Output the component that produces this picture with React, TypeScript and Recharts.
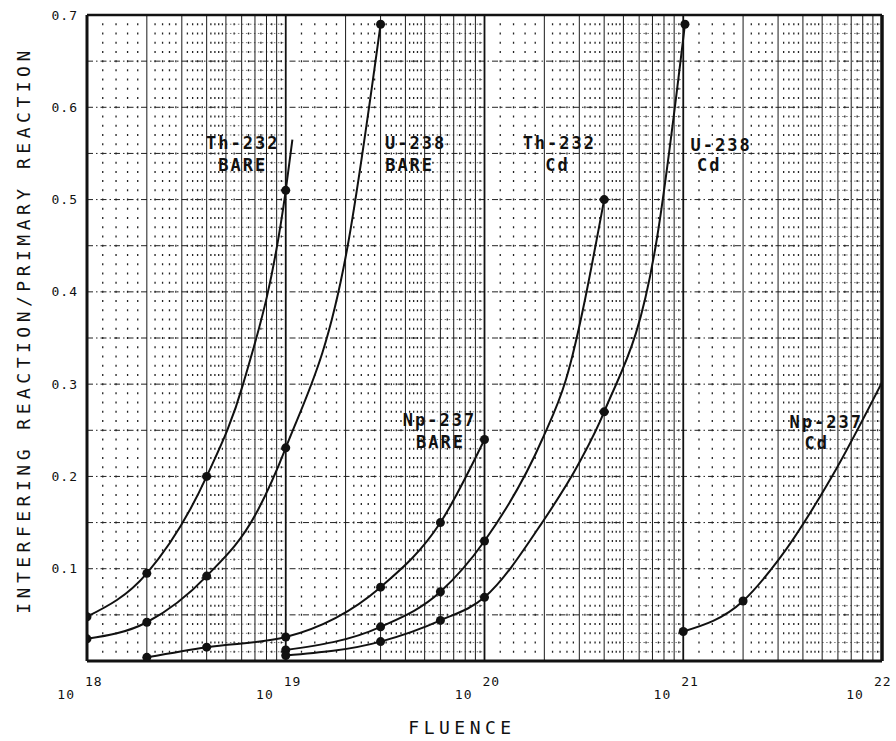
import React from "react";
import { LineChart, Line, XAxis, YAxis, ReferenceLine, ReferenceDot } from "recharts";

// fluence (n/cm^2) vs interfering/primary reaction ratio
// dots[] = whether the point carries a filled marker
const th232BareX = [1e18, 2e18, 4e18, 6.1e18, 1e19, 1.08e19];
const th232BareY = [0.048, 0.095, 0.2, 0.3, 0.51, 0.565];
const th232BareDots = [true, true, true, false, true, false];

const u238BareX = [1e18, 2e18, 4e18, 7.1e18, 1e19, 2.05e19, 3e19];
const u238BareY = [0.024, 0.042, 0.092, 0.16, 0.231, 0.45, 0.69];
const u238BareDots = [true, true, true, false, true, false, true];

const np237BareX = [2e18, 4e18, 1e19, 3e19, 6e19, 1e20];
const np237BareY = [0.004, 0.015, 0.026, 0.08, 0.15, 0.24];
const np237BareDots = [true, true, true, true, true, true];

const th232CdX = [1e19, 3e19, 6e19, 1e20, 1.95e20, 2.57e20, 4e20];
const th232CdY = [0.012, 0.037, 0.075, 0.13, 0.24, 0.305, 0.5];
const th232CdDots = [true, true, true, true, false, false, true];

const u238CdX = [1e19, 3e19, 6e19, 1e20, 1.95e20, 3e20, 4e20, 7.4e20, 1.02e21];
const u238CdY = [0.006, 0.021, 0.044, 0.069, 0.15, 0.215, 0.27, 0.46, 0.69];
const u238CdDots = [true, true, true, true, false, false, true, false, true];

const np237CdX = [1e21, 2e21, 3e21, 5.6e21, 1e22];
const np237CdY = [0.032, 0.065, 0.109, 0.2, 0.302];
const np237CdDots = [true, true, false, false, false];

const xTicks = [1e18, 1e19, 1e20, 1e21, 1e22];
const yTicks = [0.1, 0.2, 0.3, 0.4, 0.5, 0.6, 0.7];

// graph paper
const decades = [1e18, 1e19, 1e20, 1e21];
const majorMult = [2, 3, 4, 5, 6, 7, 8, 9];
const minorMult = [1.2, 1.4, 1.6, 1.8, 2.2, 2.4, 2.6, 2.8, 3.2, 3.4, 3.6, 3.8, 4.2, 4.4, 4.6, 4.8, 5.5, 6.5, 7.5, 8.5, 9.5];
const yMajorGrid = [0.05, 0.1, 0.15, 0.2, 0.25, 0.3, 0.35, 0.4, 0.45, 0.5, 0.55, 0.6, 0.65];
const yRows = Array.from({ length: 69 }, (_, i) => (i + 1) / 100).filter((v) => Math.round(v * 100) % 5 !== 0);

const curveLabels = [
  { text: "Th-232", x: 6.08e18, y: 0.561 },
  { text: "BARE", x: 6.08e18, y: 0.537 },
  { text: "U-238", x: 4.5e19, y: 0.561 },
  { text: "BARE", x: 4.2e19, y: 0.537 },
  { text: "Th-232", x: 2.38e20, y: 0.561 },
  { text: "Cd", x: 2.33e20, y: 0.537 },
  { text: "U-238", x: 1.55e21, y: 0.559 },
  { text: "Cd", x: 1.35e21, y: 0.537 },
  { text: "Np-237", x: 5.94e19, y: 0.261 },
  { text: "BARE", x: 6e19, y: 0.237 },
  { text: "Np-237", x: 5.24e21, y: 0.259 },
  { text: "Cd", x: 4.7e21, y: 0.236 },
];

const toPoints = (xs: number[], ys: number[], dots: boolean[]) =>
  xs.map((x, i) => ({ x, y: ys[i], dot: dots[i] }));

const series = [
  { name: "th232Bare", data: toPoints(th232BareX, th232BareY, th232BareDots) },
  { name: "u238Bare", data: toPoints(u238BareX, u238BareY, u238BareDots) },
  { name: "np237Bare", data: toPoints(np237BareX, np237BareY, np237BareDots) },
  { name: "th232Cd", data: toPoints(th232CdX, th232CdY, th232CdDots) },
  { name: "u238Cd", data: toPoints(u238CdX, u238CdY, u238CdDots) },
  { name: "np237Cd", data: toPoints(np237CdX, np237CdY, np237CdDots) },
];

const MONO = "'DejaVu Sans Mono', monospace";
const INK = "#111";

const PLOT_H = 646;
const ROW = PLOT_H / 70; // 0.01 rows

const XTick = ({ x, y, payload }: any) => {
  const exp = Math.round(Math.log10(payload.value));
  return (
    <g>
      <text x={x - 12} y={y + 33} textAnchor="end" dominantBaseline="central" fontFamily={MONO} fontSize={13} letterSpacing={1} fill={INK}>
        10
      </text>
      <text x={x - 2} y={y + 20} textAnchor="start" dominantBaseline="central" fontFamily={MONO} fontSize={13} letterSpacing={1} fill={INK}>
        {exp}
      </text>
    </g>
  );
};

const YTick = ({ x, y, payload }: any) => (
  <text x={x - 9} y={y} textAnchor="end" dominantBaseline="central" fontFamily={MONO} fontSize={13} letterSpacing={1} fill={INK}>
    {payload.value.toFixed(1)}
  </text>
);

export default function App() {
  return (
    <div style={{ position: "absolute", left: 0, top: 0, width: 896, height: 741, background: "#fff" }}>
      <LineChart width={896} height={741} margin={{ top: 15, right: 14, left: 0, bottom: 0 }}>
        <XAxis
          type="number"
          dataKey="x"
          scale="log"
          domain={[1e18, 1e22]}
          ticks={xTicks}
          allowDataOverflow
          height={80}
          tickSize={0}
          tickMargin={0}
          tick={<XTick />}
          axisLine={{ stroke: INK, strokeWidth: 3 }}
          tickLine={false}
          label={{
            content: ({ viewBox }: any) => (
              <text x={viewBox.x + 375} y={viewBox.y + 66} textAnchor="middle" dominantBaseline="central" fontFamily={MONO} fontSize={18} letterSpacing={4.5} fill={INK}>
                FLUENCE
              </text>
            ),
          }}
        />
        <YAxis
          type="number"
          dataKey="y"
          domain={[0, 0.7]}
          ticks={yTicks}
          allowDataOverflow
          width={87}
          tickSize={0}
          tickMargin={0}
          tick={<YTick />}
          axisLine={{ stroke: INK, strokeWidth: 3 }}
          tickLine={false}
          label={{
            content: ({ viewBox }: any) => {
              const cx = 23;
              const cy = viewBox.y + viewBox.height / 2 - 8;
              return (
                <text x={cx} y={cy} transform={`rotate(-90 ${cx} ${cy})`} textAnchor="middle" dominantBaseline="central" fontFamily={MONO} fontSize={18} letterSpacing={4.5} fill={INK}>
                  INTERFERING REACTION/PRIMARY REACTION
                </text>
              );
            },
          }}
        />

        {/* dotted minor columns, dots fall on the 0.01 rows */}
        {decades.flatMap((d) =>
          minorMult.map((m) => (
            <ReferenceLine
              key={`vm-${d}-${m}`}
              x={d * m}
              stroke="#222"
              strokeWidth={1.3}
              strokeDasharray={`2 ${ROW - 2}`}
              strokeDashoffset={1}
            />
          ))
        )}
        {/* dense upper half of each decade: rows show as fine dotted lines */}
        {decades.flatMap((d) =>
          yRows.map((v) => (
            <ReferenceLine
              key={`hr-${d}-${v}`}
              segment={[{ x: d * 5, y: v }, { x: d * 10, y: v }]}
              stroke="#555"
              strokeWidth={0.8}
              strokeDasharray="1.5 2.5"
            />
          ))
        )}
        {yMajorGrid.map((v) => (
          <ReferenceLine key={`hM-${v}`} y={v} stroke="#222" strokeWidth={1} strokeDasharray="6 3 1.5 3" />
        ))}
        {decades.flatMap((d) =>
          majorMult.map((m) => (
            <ReferenceLine key={`vM-${d}-${m}`} x={d * m} stroke="#1a1a1a" strokeWidth={1} />
          ))
        )}
        {decades.slice(1).map((d) => (
          <ReferenceLine key={`dec-${d}`} x={d} stroke={INK} strokeWidth={1.8} />
        ))}
        <ReferenceLine y={0.7} stroke={INK} strokeWidth={2.5} />
        <ReferenceLine x={1e22} stroke={INK} strokeWidth={3.5} />

        {series.map((s) => (
          <Line
            key={s.name}
            data={s.data}
            dataKey="y"
            type="monotone"
            stroke={INK}
            strokeWidth={2}
            isAnimationActive={false}
            activeDot={false}
            dot={(p: any) =>
              p.payload.dot ? (
                <circle key={`${s.name}-${p.index}`} cx={p.cx} cy={p.cy} r={4.5} fill={INK} stroke="none" />
              ) : (
                <g key={`${s.name}-${p.index}`} />
              )
            }
          />
        ))}

        {curveLabels.map((l, i) => (
          <ReferenceDot
            key={`lbl-${i}`}
            x={l.x}
            y={l.y}
            r={0}
            shape={(p: any) => (
              <text x={p.cx} y={p.cy} textAnchor="middle" dominantBaseline="central" fontFamily={MONO} fontWeight="bold" fontSize={17} letterSpacing={2} fill={INK}>
                {l.text}
              </text>
            )}
          />
        ))}
      </LineChart>
    </div>
  );
}
